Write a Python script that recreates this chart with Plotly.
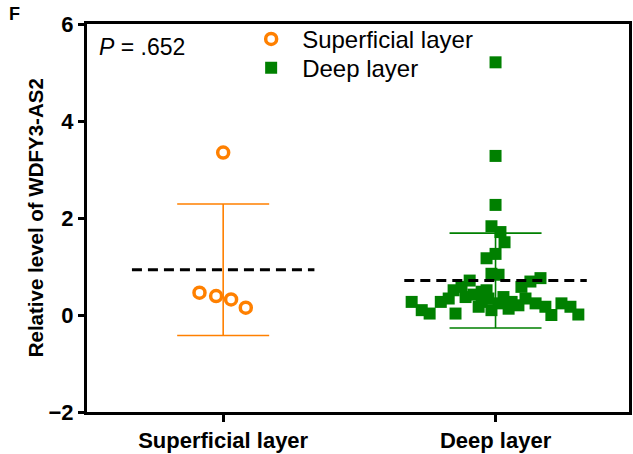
import numpy as np
import plotly.graph_objects as go

# Group labels and positions on the category axis
groups = ["Superficial layer", "Deep layer"]
group_pos = [0, 1]

# Relative expression values per sample
superficial_vals = [3.35, 0.46, 0.39, 0.32, 0.15]
deep_vals = [5.21, 3.28, 2.27, 1.83, 1.71, 1.50, 1.26, 1.17, 0.85, 0.83,
             0.71, 0.76, 0.69, 0.58, 0.58, 0.51,
             0.27, 0.10, 0.03, 0.27, 0.03, 0.37, 0.42, 0.27, 0.34, 0.10,
             0.37, 0.27, 0.13, 0.20, 0.34, 0.24, 0.17, 0.00, 0.24, 0.17,
             0.01, 0.17, 0.24, 0.34, 0.48, 0.51]

# Horizontal scatter offsets (category units) so overlapping points stay visible
superficial_jitter = [0.0, -0.087, -0.026, 0.029, 0.083]
deep_jitter = [0.0, 0.0, 0.0, -0.015, 0.018, 0.033, 0.0, -0.033, -0.015, 0.011,
               -0.095, 0.165, 0.128, 0.095, -0.125, -0.154,
               -0.308, -0.271, -0.242, -0.201, -0.147, -0.110, -0.081, -0.051, -0.026, -0.015,
               0.029, 0.059, 0.048, 0.084, 0.110, 0.147, 0.183, 0.205, 0.242, 0.275,
               0.304, -0.062, 0.011, -0.172, -0.051, -0.033]

p_label = "<i>P</i> = .652"
y_ticks = [-2, 0, 2, 4, 6]

orange = "#FF8000"
green = "#008000"
font_family = "Liberation Sans, Arial, sans-serif"

fig = go.Figure()

fig.add_trace(go.Scatter(
    x=[group_pos[0] + d for d in superficial_jitter], y=superficial_vals,
    mode="markers", name="Superficial layer", legend="legend",
    marker=dict(symbol="circle-open", size=11, color=orange, line=dict(width=3.5, color=orange)),
))
fig.add_trace(go.Scatter(
    x=[group_pos[1] + d for d in deep_jitter], y=deep_vals,
    mode="markers", name="Deep layer", legend="legend2",
    marker=dict(symbol="square", size=12, color=green, line=dict(width=0)),
))

# Mean ± SD error bars and dashed mean lines
for pos, vals, col in [(group_pos[0], superficial_vals, orange), (group_pos[1], deep_vals, green)]:
    arr = np.array(vals)
    m = arr.mean()
    sd = arr.std(ddof=1)
    fig.add_trace(go.Scatter(
        x=[pos], y=[m], mode="markers", showlegend=False, hoverinfo="skip",
        marker=dict(size=1, color="rgba(0,0,0,0)"),
        error_y=dict(type="data", array=[sd], visible=True, color=col, thickness=1.6, width=46),
    ))
    fig.add_trace(go.Scatter(
        x=[pos - 0.335, pos + 0.335], y=[m, m], mode="lines", showlegend=False, hoverinfo="skip",
        line=dict(color="black", width=3, dash="10px,6px"),
    ))

legend_style = dict(
    xanchor="left", yanchor="top",
    font=dict(size=24, family=font_family, color="black"),
    bgcolor="rgba(0,0,0,0)", itemwidth=52,
)

fig.update_layout(
    width=633, height=454,
    margin=dict(l=87, r=1, t=24, b=40),
    paper_bgcolor="white", plot_bgcolor="white",
    font=dict(family=font_family, color="black"),
    showlegend=True,
    legend=dict(x=(241 - 87) / 545, y=(414 - 16.8) / 390, **legend_style),
    legend2=dict(x=(241 - 87) / 545, y=(414 - 45.8) / 390, **legend_style),
    xaxis=dict(
        range=[-0.5, 1.49], tickvals=group_pos, ticktext=groups,
        showline=True, linewidth=3, linecolor="black", mirror=True,
        ticks="outside", ticklen=7, tickwidth=3, tickcolor="black",
        tickfont=dict(size=22, family=font_family, weight="bold", color="black"),
        showgrid=False, zeroline=False,
    ),
    yaxis=dict(
        range=[-2, 6], tickvals=y_ticks,
        showline=True, linewidth=3, linecolor="black", mirror=True,
        ticks="outside", ticklen=6, tickwidth=3, tickcolor="black",
        tickfont=dict(size=22, family=font_family, weight="bold", color="black"),
        showgrid=False, zeroline=False,
    ),
    annotations=[
        dict(text=p_label, x=(97 - 87) / 545, y=(414 - 47) / 390, xref="paper", yref="paper",
             xanchor="left", yanchor="middle", showarrow=False,
             font=dict(size=23, family=font_family, color="black")),
        dict(text="<b>Relative level of WDFY3-AS2</b>", x=(35 - 87) / 545, y=(414 - 219) / 390,
             xref="paper", yref="paper", textangle=-90, showarrow=False,
             xanchor="center", yanchor="middle",
             font=dict(size=20.5, family=font_family, color="black")),
        dict(text="<b>F</b>", x=(14 - 87) / 545, y=(414 - 14) / 390, xref="paper", yref="paper",
             showarrow=False, xanchor="center", yanchor="middle",
             font=dict(size=18, family=font_family, color="black")),
    ],
)

fig.write_html("out.html")
